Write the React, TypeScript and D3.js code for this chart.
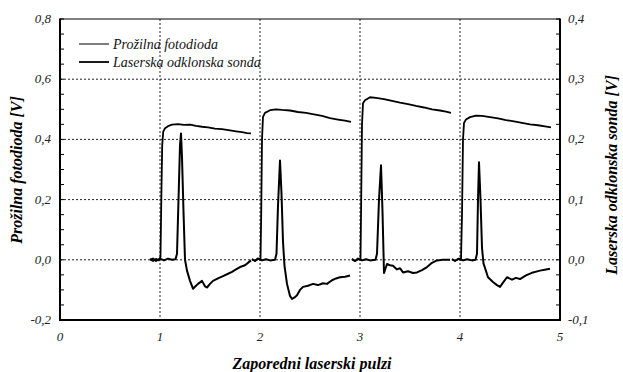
import { useEffect, useRef } from "react";
import * as d3 from "d3";

type Pt = [number, number];

// Prožilna fotodioda (left axis, V) – one segment per laser pulse
const photodiode: Pt[][] = [
  [[0.9, 0.002], [0.93, -0.004], [0.96, 0.003], [0.99, -0.002], [1.005, 0.01], [1.013, 0.2], [1.022, 0.38], [1.032, 0.425], [1.05, 0.437], [1.08, 0.444], [1.12, 0.449], [1.18, 0.451], [1.24, 0.448], [1.3, 0.449], [1.36, 0.445], [1.42, 0.442], [1.48, 0.44], [1.55, 0.436], [1.62, 0.434], [1.7, 0.43], [1.76, 0.427], [1.82, 0.424], [1.87, 0.421], [1.91, 0.42]],
  [[1.92, 0.002], [1.95, -0.003], [1.98, 0.004], [2.005, 0.0], [2.012, 0.15], [2.02, 0.4], [2.03, 0.475], [2.05, 0.488], [2.1, 0.497], [2.16, 0.5], [2.22, 0.498], [2.3, 0.496], [2.38, 0.491], [2.46, 0.488], [2.54, 0.483], [2.62, 0.478], [2.7, 0.471], [2.78, 0.466], [2.85, 0.462], [2.91, 0.458]],
  [[2.92, 0.003], [2.95, -0.004], [2.98, 0.002], [3.005, 0.0], [3.012, 0.2], [3.02, 0.45], [3.03, 0.52], [3.05, 0.53], [3.1, 0.54], [3.16, 0.538], [3.24, 0.534], [3.32, 0.528], [3.4, 0.522], [3.48, 0.517], [3.56, 0.511], [3.64, 0.506], [3.72, 0.5], [3.8, 0.496], [3.86, 0.492], [3.91, 0.488]],
  [[3.92, 0.002], [3.95, -0.003], [3.98, 0.003], [4.01, 0.0], [4.02, 0.15], [4.03, 0.4], [4.04, 0.455], [4.06, 0.466], [4.1, 0.474], [4.16, 0.479], [4.22, 0.478], [4.3, 0.474], [4.38, 0.47], [4.46, 0.464], [4.54, 0.46], [4.62, 0.455], [4.7, 0.45], [4.78, 0.447], [4.85, 0.443], [4.91, 0.44]],
];

// Laserska odklonska sonda (right axis, V)
const probe: Pt[][] = [
  [[0.9, 0.0], [0.93, 0.002], [0.96, -0.002], [1.0, 0.002], [1.04, -0.001], [1.08, 0.002], [1.12, 0.0], [1.155, 0.001], [1.17, 0.01], [1.185, 0.1], [1.2, 0.19], [1.21, 0.21], [1.22, 0.17], [1.235, 0.08], [1.25, 0.0], [1.27, -0.018], [1.3, -0.035], [1.33, -0.048], [1.36, -0.043], [1.38, -0.04], [1.42, -0.035], [1.45, -0.044], [1.47, -0.046], [1.5, -0.04], [1.53, -0.035], [1.58, -0.031], [1.63, -0.027], [1.67, -0.024], [1.72, -0.02], [1.76, -0.016], [1.8, -0.012], [1.85, -0.009], [1.91, -0.001]],
  [[1.92, 0.001], [1.95, -0.002], [1.98, 0.002], [2.02, -0.001], [2.06, 0.001], [2.1, -0.001], [2.15, 0.0], [2.165, 0.01], [2.18, 0.09], [2.2, 0.165], [2.215, 0.11], [2.23, 0.03], [2.245, -0.01], [2.27, -0.04], [2.3, -0.06], [2.32, -0.065], [2.35, -0.062], [2.37, -0.059], [2.4, -0.05], [2.43, -0.045], [2.48, -0.043], [2.53, -0.04], [2.58, -0.042], [2.63, -0.039], [2.67, -0.04], [2.72, -0.034], [2.76, -0.031], [2.8, -0.029], [2.85, -0.028], [2.9, -0.026]],
  [[2.92, 0.001], [2.95, -0.002], [2.98, 0.002], [3.02, -0.001], [3.06, 0.001], [3.1, -0.001], [3.155, 0.0], [3.17, 0.01], [3.19, 0.1], [3.21, 0.157], [3.225, 0.08], [3.24, -0.022], [3.27, -0.007], [3.3, -0.009], [3.33, -0.01], [3.37, -0.016], [3.4, -0.014], [3.43, -0.021], [3.48, -0.019], [3.53, -0.022], [3.57, -0.021], [3.62, -0.017], [3.67, -0.012], [3.72, -0.005], [3.77, -0.001], [3.83, 0.0], [3.9, 0.0]],
  [[3.92, 0.001], [3.95, -0.002], [3.99, 0.002], [4.03, -0.001], [4.07, 0.001], [4.12, -0.001], [4.155, 0.0], [4.17, 0.01], [4.18, 0.1], [4.19, 0.162], [4.205, 0.1], [4.22, 0.02], [4.235, -0.006], [4.28, -0.029], [4.33, -0.037], [4.37, -0.042], [4.4, -0.045], [4.43, -0.038], [4.47, -0.029], [4.52, -0.033], [4.56, -0.03], [4.6, -0.032], [4.66, -0.026], [4.73, -0.021], [4.8, -0.018], [4.86, -0.016], [4.9, -0.015]],
];

const xTicks = [0, 1, 2, 3, 4, 5];
const leftTicks = [-0.2, 0, 0.2, 0.4, 0.6, 0.8];
const rightTicks = [-0.1, 0, 0.1, 0.2, 0.3, 0.4];
const legendLabels = ["Prožilna fotodioda", "Laserska odklonska sonda"];

const W = 623;
const H = 372;
const SERIF = "Liberation Serif";

export default function App() {
  const svgRef = useRef<SVGSVGElement>(null);

  useEffect(() => {
    if (!svgRef.current) return;
    const svg = d3.select(svgRef.current);
    svg.selectAll("*").remove();

    const margin = { top: 19, right: 63, bottom: 52, left: 60 };
    const x = d3.scaleLinear().domain([0, 5]).range([margin.left, W - margin.right]);
    const yL = d3.scaleLinear().domain([-0.2, 0.8]).range([H - margin.bottom, margin.top]);
    const yR = d3.scaleLinear().domain([-0.1, 0.4]).range([H - margin.bottom, margin.top]);
    const fmt = (v: number) => d3.format(".1f")(v).replace(".", ",").replace("−", "-");

    // grid
    const grid = svg.append("g").attr("stroke", "#222").attr("stroke-width", 1).attr("stroke-dasharray", "2,2");
    xTicks.slice(1, -1).forEach((t) => {
      grid.append("line").attr("x1", x(t)).attr("x2", x(t)).attr("y1", yL(0.8)).attr("y2", yL(-0.2));
    });
    leftTicks.slice(1, -1).forEach((t) => {
      grid.append("line").attr("x1", x(0)).attr("x2", x(5)).attr("y1", yL(t)).attr("y2", yL(t));
    });

    // minor/major ticks (inward)
    const ticks = svg.append("g").attr("stroke", "#000").attr("stroke-width", 1);
    d3.range(-0.2, 0.8001, 0.05).forEach((t) => {
      ticks.append("line").attr("x1", x(0)).attr("x2", x(0) + 4).attr("y1", yL(t)).attr("y2", yL(t));
    });
    d3.range(-0.1, 0.4001, 0.025).forEach((t) => {
      ticks.append("line").attr("x1", x(5)).attr("x2", x(5) - 4).attr("y1", yR(t)).attr("y2", yR(t));
    });

    // frame
    svg
      .append("line")
      .attr("x1", x(0)).attr("x2", x(5)).attr("y1", yL(0.8)).attr("y2", yL(0.8))
      .attr("stroke", "#000").attr("stroke-width", 1.2);
    const frame = svg.append("g").attr("stroke", "#000").attr("stroke-width", 2).attr("fill", "none");
    frame.append("line").attr("x1", x(0)).attr("x2", x(0)).attr("y1", yL(0.8) - 0.5).attr("y2", yL(-0.2) + 1);
    frame.append("line").attr("x1", x(5)).attr("x2", x(5)).attr("y1", yL(0.8) - 0.5).attr("y2", yL(-0.2) + 1);
    frame.append("line").attr("x1", x(0) - 1).attr("x2", x(5) + 1).attr("y1", yL(-0.2)).attr("y2", yL(-0.2));

    const txt = (g: d3.Selection<SVGGElement, unknown, null, undefined>, size: number, bold = false) =>
      g.append("text")
        .attr("font-family", SERIF)
        .attr("font-style", "italic")
        .attr("font-weight", bold ? 700 : 400)
        .attr("font-size", size);

    // tick labels
    const labels = svg.append("g").attr("fill", "#222");
    leftTicks.forEach((t) => {
      txt(labels, 13).attr("x", 51).attr("y", yL(t) + 1).attr("text-anchor", "end").attr("dominant-baseline", "middle").text(fmt(t));
    });
    rightTicks.forEach((t) => {
      txt(labels, 13).attr("x", 568).attr("y", yR(t) + 1).attr("text-anchor", "start").attr("dominant-baseline", "middle").text(fmt(t));
    });
    xTicks.forEach((t) => {
      txt(labels, 13).attr("x", x(t)).attr("y", 338).attr("text-anchor", "middle").attr("dominant-baseline", "middle").text(String(t));
    });

    // axis titles
    const titles = svg.append("g").attr("fill", "#000");
    txt(titles, 16, true).attr("x", 312).attr("y", 369).attr("text-anchor", "middle").text("Zaporedni laserski pulzi");
    txt(titles, 16, true)
      .attr("transform", `translate(22,170) rotate(-90)`)
      .attr("text-anchor", "middle")
      .text("Prožilna fotodioda [V]");
    txt(titles, 16, true)
      .attr("transform", `translate(617,175) rotate(-90)`)
      .attr("text-anchor", "middle")
      .text("Laserska odklonska sonda [V]");

    // traces
    const lineL = d3.line<Pt>().x((d) => x(d[0])).y((d) => yL(d[1]));
    const lineR = d3.line<Pt>().x((d) => x(d[0])).y((d) => yR(d[1]));
    const traces = svg.append("g").attr("fill", "none").attr("stroke", "#000").attr("stroke-linejoin", "round");
    photodiode.forEach((seg) => {
      traces.append("path").attr("d", lineL(seg)).attr("stroke-width", 1.8);
    });
    probe.forEach((seg) => {
      traces.append("path").attr("d", lineR(seg)).attr("stroke-width", 2);
    });

    // legend
    const legend = svg.append("g").attr("fill", "#111");
    legendLabels.forEach((label, i) => {
      const ly = 44 + i * 18;
      legend.append("line").attr("x1", 79).attr("x2", 109).attr("y1", ly).attr("y2", ly).attr("stroke", "#000").attr("stroke-width", i === 0 ? 1 : 1.8);
      txt(legend, 14).attr("x", 113).attr("y", ly + 4.5).text(label);
    });
  }, []);

  return (
    <svg
      ref={svgRef}
      width={W}
      height={H}
      viewBox={`0 0 ${W} ${H}`}
      style={{ position: "absolute", left: 0, top: 0, background: "#fff" }}
    />
  );
}
